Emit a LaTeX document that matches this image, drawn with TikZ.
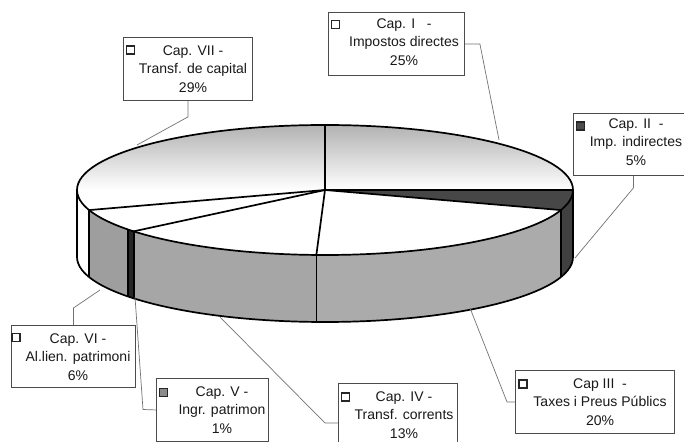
\documentclass[tikz,border=0pt]{standalone}
\usepackage{fontspec}
\setmainfont{Liberation Sans}
\newcommand{\pieX}[1]{{325+248*cos(#1)}}
\newcommand{\pieY}[1]{{251+65*sin(#1)}}
\newcommand{\pieside}[3]{%
  \path[fill=#3] (\pieX{#1},\pieY{#1}) arc[start angle=#1,end angle=#2,x radius=248,y radius=65]
    -- ++(0,-67) arc[start angle=#2,end angle=#1,x radius=248,y radius=65] -- cycle;}
\newcommand{\pietop}[3]{%
  \path[fill=#3] (325,251) -- (\pieX{#1},\pieY{#1}) arc[start angle=#1,end angle=#2,x radius=248,y radius=65] -- cycle;}
\begin{document}
\begin{tikzpicture}[x=1pt,y=1pt,
  pieline/.style={line width=1.7pt,line join=round},
  leader/.style={draw=black!55,line width=0.7pt},
  labelbox/.style={draw=black!70,line width=0.9pt,anchor=north west,inner sep=0pt},
  labeltext/.style={font=\fontsize{14}{18.5}\selectfont,align=center,inner sep=0pt,text=black!90},
  marker/.style={draw=black!85,line width=1.2pt,minimum size=8pt,inner sep=0pt}]
\useasboundingbox (0,0) rectangle (684,441);
\clip (0,0) rectangle (684,441);
\fill[white] (0,0) rectangle (684,441);
% side faces
\pieside{-180}{-162}{white}
\pieside{-162}{-142.5}{black!38}
\pieside{-142.5}{-140.5}{black!85}
\pieside{-140.5}{-92}{black!35}
\pieside{-92}{-18}{black!33}
\pieside{-18}{0}{black!75}
% top faces
\shade[top color=black!30,bottom color=white,middle color=white] (325,251) ellipse[x radius=248,y radius=65];
\pietop{0}{-18}{black!72}
% outlines
\draw[pieline] (325,251) ellipse[x radius=248,y radius=65];
\draw[pieline] (77,251) -- ++(0,-67) arc[start angle=180,end angle=360,x radius=248,y radius=65] -- ++(0,67);
\foreach \a in {-162,-142.5,-140.5,-92,-18}{
  \draw[pieline] (\pieX{\a},\pieY{\a}) -- ++(0,-67);}
\foreach \a in {90,0,-18,-92,-140.5,-162}{
  \draw[pieline] (325,251) -- (\pieX{\a},\pieY{\a});}
% pie anchor coordinates
\coordinate (e1) at (499,301);
\coordinate (e2) at (575,183);
\coordinate (e3) at (470,133);
\coordinate (e4) at (220,124);
\coordinate (e5) at (135,144);
\coordinate (e6) at (100,151);
\coordinate (e7) at (137,296);
% label boxes
\node[labelbox,minimum width=136pt,minimum height=63pt] (b1) at (328,429) {};
\node[labelbox,minimum width=120pt,minimum height=62pt] (b2) at (573,328) {};
\node[labelbox,minimum width=159pt,minimum height=63pt] (b3) at (515,71) {};
\node[labelbox,minimum width=119pt,minimum height=63pt] (b4) at (338,58) {};
\node[labelbox,minimum width=112pt,minimum height=63pt] (b5) at (156,63) {};
\node[labelbox,minimum width=124pt,minimum height=62pt] (b6) at (11,116) {};
\node[labelbox,minimum width=129pt,minimum height=63pt] (b7) at (123,404) {};
% markers
\node[marker,fill=white] (m1) at ([shift={(7.5,-12.5)}]b1.north west) {};
\node[marker,fill=black!70] (m2) at ([shift={(7.5,-13)}]b2.north west) {};
\node[marker,fill=white] (m3) at ([shift={(8,-14)}]b3.north west) {};
\node[marker,fill=white] (m4) at ([shift={(7.5,-14)}]b4.north west) {};
\node[marker,fill=black!45] (m5) at ([shift={(7.5,-14.5)}]b5.north west) {};
\node[marker,fill=white] (m6) at ([shift={(5,-12.5)}]b6.north west) {};
\node[marker,fill=white] (m7) at ([shift={(7.5,-13)}]b7.north west) {};
% texts
\node[labeltext] (t1) at (404,399) {Cap. I\ \ \ -\\Impostos directes\\25\%};
\node[labeltext] (t2) at (636,299) {Cap. II\ \ -\\Imp. indirectes\\5\%};
\node[labeltext] (t3) at (600,39) {Cap III\ \ -\\Taxes i Preus Públics\\20\%};
\node[labeltext] (t4) at (404,26) {Cap. IV -\\Transf. corrents\\13\%};
\node[labeltext] (t5) at (222,31) {Cap. V -\\Ingr. patrimon\\1\%};
\node[labeltext] (t6) at (78,84) {Cap. VI -\\Al.lien. patrimoni\\6\%};
\node[labeltext] (t7) at (193,372) {Cap. VII -\\Transf. de capital\\29\%};
% leaders
\coordinate (k4) at (325,18);
\coordinate (k5) at (143,31.5);
\draw[leader] (b1.east) -- ++(15,0) -- (e1);
\draw[leader] (b2.south) -- ++(0,-12) -- (e2);
\draw[leader] (b3.west) -- ++(-8,0) -- (e3);
\draw[leader] (e4) -- (k4) -- (k4 -| b4.west);
\draw[leader] (b5.west) -- (k5) -- (e5);
\draw[leader] (b6.north) -- ++(0,17) -- (e6);
\draw[leader] (b7.south) -- ++(0,-16) -- (e7);
\end{tikzpicture}
\end{document}
